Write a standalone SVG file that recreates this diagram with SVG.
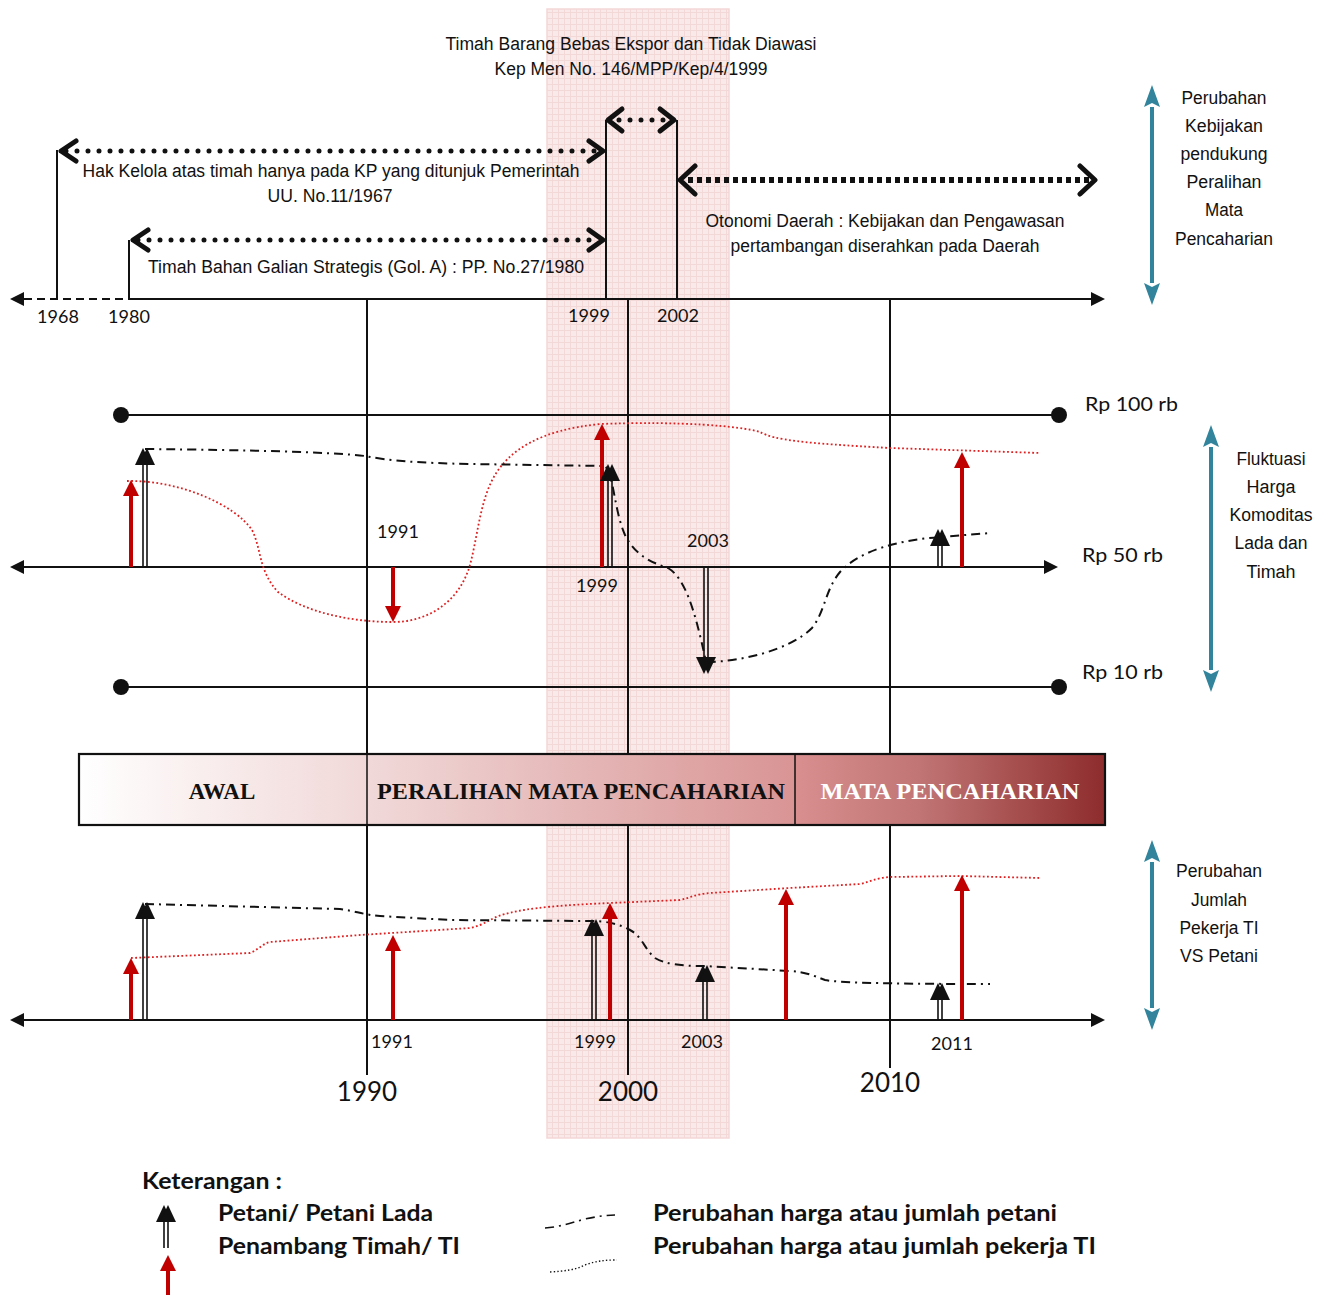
<svg xmlns="http://www.w3.org/2000/svg" xmlns:xlink="http://www.w3.org/1999/xlink" width="1326" height="1295" viewBox="0 0 1326 1295">
<style>
.nar{font-family:"Liberation Sans",Arial,sans-serif;font-size:18px;fill:#111;text-anchor:middle}
.cal{font-family:Lato,"Noto Sans",sans-serif;font-size:18px;fill:#111;text-anchor:middle}
.leg{font-family:Lato,"Noto Sans",sans-serif;font-size:22px;font-weight:bold;fill:#111}
.band{font-family:"Liberation Serif","Times New Roman",serif;font-size:23px;font-weight:bold;text-anchor:middle}
.ln{stroke:#111;stroke-width:2;fill:none}
.red{stroke:#c00000;stroke-width:4;fill:none}
.teal{stroke:#31849b;stroke-width:4;fill:none}
.dbl{stroke:#111;stroke-width:1.6;fill:none}
.rdot{stroke:#e02020;stroke-width:1.8;fill:none;stroke-dasharray:1.8 2.4}
.dd{stroke:#111;stroke-width:2;fill:none;stroke-dasharray:9 5 2 5}
.pol{stroke:#111;stroke-width:5;fill:none;stroke-linecap:round;stroke-dasharray:0 11}
.chev{stroke:#111;stroke-width:5;fill:none;stroke-linecap:round;stroke-linejoin:round}
</style>
<defs>
<pattern id="grid" width="6" height="6" patternUnits="userSpaceOnUse">
<rect width="6" height="6" fill="#fae9e9"/>
<path d="M0,0.5 H6 M0.5,0 V6" stroke="#f3d8d8" stroke-width="1"/>
</pattern>
<linearGradient id="g1" x1="0" x2="1" y1="0" y2="0"><stop offset="0" stop-color="#ffffff"/><stop offset="0.3" stop-color="#fbf3f3"/><stop offset="1" stop-color="#f1d8d8"/></linearGradient>
<linearGradient id="g2" x1="0" x2="1" y1="0" y2="0"><stop offset="0" stop-color="#f1d9d9"/><stop offset="1" stop-color="#d99494"/></linearGradient>
<linearGradient id="g3" x1="0" x2="1" y1="0" y2="0"><stop offset="0" stop-color="#d98f8f"/><stop offset="0.4" stop-color="#c17575"/><stop offset="1" stop-color="#8e2c2c"/></linearGradient>
<marker id="redHead" viewBox="0 -8 16 16" refX="0" refY="0" markerWidth="16" markerHeight="16" markerUnits="userSpaceOnUse" orient="auto"><path d="M0,-8 L16,0 L0,8 z" fill="#c00000"/></marker>
<marker id="tealHead" viewBox="0 -9 22 18" refX="0" refY="0" markerWidth="22" markerHeight="18" markerUnits="userSpaceOnUse" orient="auto-start-reverse"><path d="M0,-8 L22,0 L0,8 L4,0 z" fill="#31849b"/></marker>
<marker id="axHead" viewBox="0 -8 14 16" refX="0" refY="0" markerWidth="14" markerHeight="16" markerUnits="userSpaceOnUse" orient="auto-start-reverse"><path d="M0,-7 L14,0 L0,7 z" fill="#111"/></marker>
<g id="bhead" fill="#111"><path d="M-10,17 L-2,0 L6,17 z"/><path d="M-6,17 L2,0 L10,17 z"/></g>
</defs>

<g id="highlight-1999-2003">
<rect x="547" y="9" width="182" height="1129" fill="url(#grid)" stroke="#f3d6d6" stroke-width="1.5"/>
</g>

<g id="connectors">
<path class="ln" d="M367,299 V1075 M628,299 V1075 M890,299 V1068"/>
<path class="ln" d="M57,150 V299 M129,240 V299 M606,120 V299 M677,120 V299"/>
<path class="ln" d="M128,299 H1091" marker-end="url(#axHead)"/>
<path class="ln" d="M24,299 H128" stroke-dasharray="8 5" marker-start="url(#axHead)"/>
<path class="ln" d="M24,567 H1044" marker-start="url(#axHead)" marker-end="url(#axHead)"/>
<path class="ln" d="M121,415 H1059 M121,687 H1059"/>
<circle cx="121" cy="415" r="8" fill="#111"/><circle cx="1059" cy="415" r="8" fill="#111"/>
<circle cx="121" cy="687" r="8" fill="#111"/><circle cx="1059" cy="687" r="8" fill="#111"/>
<path class="ln" d="M24,1020 H1091" marker-start="url(#axHead)" marker-end="url(#axHead)"/>

<path class="pol" d="M66,151 H598"/>
<path class="chev" d="M76,141 L61,151 L76,161 M589,141 L603,151 L589,161"/>
<path class="pol" d="M138,240 H598"/>
<path class="chev" d="M148,230 L133,240 L148,250 M589,230 L603,240 L589,250"/>
<path class="pol" d="M619,120 H666"/>
<path class="chev" d="M622,109 L608,120 L622,131 M660,109 L674,120 L660,131"/>
<path d="M688,180 H1090" stroke="#111" stroke-width="6" stroke-dasharray="5 4" fill="none"/>
<path class="chev" d="M695,166 L680,180 L695,194 M1080,166 L1095,180 L1080,194"/>

<path class="teal" d="M1152,107 V283" marker-start="url(#tealHead)" marker-end="url(#tealHead)"/>
<path class="teal" d="M1211,447 V670" marker-start="url(#tealHead)" marker-end="url(#tealHead)"/>
<path class="teal" d="M1152,862 V1008" marker-start="url(#tealHead)" marker-end="url(#tealHead)"/>

<path class="rdot" d="M127,481 C180,480 235,505 252,530 C262,550 258,570 278,592 C305,612 350,622 393,622 C430,622 460,600 470,565 C478,535 480,500 495,475 C510,450 540,430 600,424 C680,421 740,426 760,432 C775,440 800,443 890,448 L1040,453"/>
<path class="dd" d="M145,449 C250,450 330,452 365,456 C390,461 420,463 470,464 L605,466 C614,475 614,510 625,535 C635,555 650,562 668,568 C685,578 695,610 706,662 C740,662 790,650 812,628 C825,612 825,590 840,572 C860,550 900,540 940,537 L990,533"/>

<path class="red" d="M131,567 V496" marker-end="url(#redHead)"/>
<path class="dbl" d="M143,567 V462 M147,567 V462"/><use xlink:href="#bhead" x="145" y="448"/>
<path class="red" d="M393,567 V606" marker-end="url(#redHead)"/>
<path class="red" d="M602,567 V440" marker-end="url(#redHead)"/>
<path class="dbl" d="M608,567 V478 M612,567 V478"/><use xlink:href="#bhead" x="610" y="464"/>
<path class="dbl" d="M704,567 V660 M708,567 V660"/><use xlink:href="#bhead" transform="translate(706,674) rotate(180)"/>
<path class="dbl" d="M938,567 V543 M942,567 V543"/><use xlink:href="#bhead" x="940" y="529"/>
<path class="red" d="M962,567 V468" marker-end="url(#redHead)"/>

<path class="rdot" d="M131,958 L250,953 C258,950 262,944 270,942 L360,935 L470,928 C485,925 490,918 505,914 C520,910 540,906 610,903 L680,900 C690,898 695,894 710,893 L790,888 L860,884 C870,882 875,878 890,877 L960,876 L1040,878"/>
<path class="dd" d="M145,904 L340,909 C355,911 365,915 380,916 L450,920 L590,921 C610,921 620,925 630,930 C642,936 645,950 655,958 C665,964 680,966 705,966 L790,971 C805,972 812,975 825,980 C840,983 900,984 990,984"/>

<path class="red" d="M131,1020 V974" marker-end="url(#redHead)"/>
<path class="dbl" d="M143,1020 V916 M147,1020 V916"/><use xlink:href="#bhead" x="145" y="902"/>
<path class="red" d="M393,1020 V951" marker-end="url(#redHead)"/>
<path class="dbl" d="M592,1020 V933 M596,1020 V933"/><use xlink:href="#bhead" x="594" y="919"/>
<path class="red" d="M610,1020 V919" marker-end="url(#redHead)"/>
<path class="dbl" d="M703,1020 V979 M707,1020 V979"/><use xlink:href="#bhead" x="705" y="965"/>
<path class="red" d="M786,1020 V905" marker-end="url(#redHead)"/>
<path class="dbl" d="M938,1020 V997 M942,1020 V997"/><use xlink:href="#bhead" x="940" y="983"/>
<path class="red" d="M962,1020 V891" marker-end="url(#redHead)"/>
</g>

<g id="phase-band">
<rect x="79" y="754" width="288" height="71" fill="url(#g1)"/>
<rect x="367" y="754" width="428" height="71" fill="url(#g2)"/>
<rect x="795" y="754" width="310" height="71" fill="url(#g3)"/>
<rect x="79" y="754" width="1026" height="71" fill="none" stroke="#111" stroke-width="2.2"/>
<path d="M367,754 V825 M795,754 V825" stroke="#111" stroke-width="1.5"/>
<text class="band" x="222" y="799" fill="#111">AWAL</text>
<text class="band" x="581" y="799" fill="#111" textLength="408" lengthAdjust="spacingAndGlyphs">PERALIHAN MATA PENCAHARIAN</text>
<text class="band" x="950" y="799" fill="#ffffff" textLength="259" lengthAdjust="spacingAndGlyphs">MATA PENCAHARIAN</text>
</g>

<g id="policy-labels">
<text class="nar" x="631" y="50" textLength="371" lengthAdjust="spacingAndGlyphs">Timah Barang Bebas Ekspor dan Tidak Diawasi</text>
<text class="nar" x="631" y="75" textLength="273" lengthAdjust="spacingAndGlyphs">Kep Men No. 146/MPP/Kep/4/1999</text>
<text class="nar" x="331" y="177" textLength="497" lengthAdjust="spacingAndGlyphs">Hak Kelola atas timah hanya pada KP yang ditunjuk Pemerintah</text>
<text class="nar" x="330" y="202" textLength="125" lengthAdjust="spacingAndGlyphs">UU. No.11/1967</text>
<text class="nar" x="366" y="273" textLength="436" lengthAdjust="spacingAndGlyphs">Timah Bahan Galian Strategis (Gol. A) : PP. No.27/1980</text>
<text class="nar" x="885" y="227" textLength="359" lengthAdjust="spacingAndGlyphs">Otonomi Daerah : Kebijakan dan Pengawasan</text>
<text class="nar" x="885" y="252" textLength="309" lengthAdjust="spacingAndGlyphs">pertambangan diserahkan pada Daerah</text>
</g>

<g id="label-kebijakan">
<text class="nar" x="1224" y="104" textLength="85" lengthAdjust="spacingAndGlyphs">Perubahan</text>
<text class="nar" x="1224" y="132" textLength="78" lengthAdjust="spacingAndGlyphs">Kebijakan</text>
<text class="nar" x="1224" y="160" textLength="87" lengthAdjust="spacingAndGlyphs">pendukung</text>
<text class="nar" x="1224" y="188" textLength="75" lengthAdjust="spacingAndGlyphs">Peralihan</text>
<text class="nar" x="1224" y="216" textLength="38" lengthAdjust="spacingAndGlyphs">Mata</text>
<text class="nar" x="1224" y="245" textLength="98" lengthAdjust="spacingAndGlyphs">Pencaharian</text>
</g>

<g id="label-fluktuasi">
<text class="nar" x="1271" y="465" textLength="69" lengthAdjust="spacingAndGlyphs">Fluktuasi</text>
<text class="nar" x="1271" y="493" textLength="49" lengthAdjust="spacingAndGlyphs">Harga</text>
<text class="nar" x="1271" y="521" textLength="83" lengthAdjust="spacingAndGlyphs">Komoditas</text>
<text class="nar" x="1271" y="549" textLength="73" lengthAdjust="spacingAndGlyphs">Lada dan</text>
<text class="nar" x="1271" y="578" textLength="49" lengthAdjust="spacingAndGlyphs">Timah</text>
</g>

<g id="label-jumlah">
<text class="nar" x="1219" y="877" textLength="86" lengthAdjust="spacingAndGlyphs">Perubahan</text>
<text class="nar" x="1219" y="906" textLength="56" lengthAdjust="spacingAndGlyphs">Jumlah</text>
<text class="nar" x="1219" y="934" textLength="79" lengthAdjust="spacingAndGlyphs">Pekerja TI</text>
<text class="nar" x="1219" y="962" textLength="78" lengthAdjust="spacingAndGlyphs">VS Petani</text>
</g>

<g id="year-labels">
<text class="cal" x="58" y="323">1968</text>
<text class="cal" x="129" y="323">1980</text>
<text class="cal" x="589" y="322">1999</text>
<text class="cal" x="678" y="322">2002</text>
<text class="cal" x="398" y="538">1991</text>
<text class="cal" x="597" y="592">1999</text>
<text class="cal" x="708" y="547">2003</text>
<text class="cal" x="392" y="1048">1991</text>
<text class="cal" x="595" y="1048">1999</text>
<text class="cal" x="702" y="1048">2003</text>
<text class="cal" x="952" y="1050">2011</text>
<text class="cal" x="367" y="1101" style="font-size:26px">1990</text>
<text class="cal" x="628" y="1101" style="font-size:26px">2000</text>
<text class="cal" x="890" y="1092" style="font-size:26px">2010</text>
</g>

<g id="price-labels">
<text class="cal" x="1085" y="411" style="font-size:20px;text-anchor:start" textLength="93" lengthAdjust="spacingAndGlyphs">Rp 100 rb</text>
<text class="cal" x="1082" y="562" style="font-size:20px;text-anchor:start" textLength="81" lengthAdjust="spacingAndGlyphs">Rp 50 rb</text>
<text class="cal" x="1082" y="679" style="font-size:20px;text-anchor:start" textLength="81" lengthAdjust="spacingAndGlyphs">Rp 10 rb</text>
</g>

<g id="legend">
<text class="leg" x="142" y="1189" textLength="140" lengthAdjust="spacingAndGlyphs">Keterangan :</text>
<path class="dbl" d="M164,1248 V1219 M168,1248 V1219"/><use xlink:href="#bhead" x="166" y="1205"/>
<path class="red" d="M168,1295 V1271" marker-end="url(#redHead)"/>
<text class="leg" x="218" y="1221" textLength="215" lengthAdjust="spacingAndGlyphs">Petani/ Petani Lada</text>
<text class="leg" x="218" y="1254" textLength="242" lengthAdjust="spacingAndGlyphs">Penambang Timah/ TI</text>
<path class="dd" d="M545,1228 C560,1227 570,1223 585,1219 C595,1217 605,1215 615,1215" style="stroke-width:1.6"/>
<path d="M550,1272 C565,1271 575,1270 585,1265 C595,1261 605,1260 617,1260" stroke="#111" stroke-width="1.4" stroke-dasharray="1.4 2.2" fill="none"/>
<text class="leg" x="653" y="1221" textLength="404" lengthAdjust="spacingAndGlyphs">Perubahan harga atau jumlah petani</text>
<text class="leg" x="653" y="1254" textLength="443" lengthAdjust="spacingAndGlyphs">Perubahan harga atau jumlah pekerja TI</text>
</g>
</svg>
